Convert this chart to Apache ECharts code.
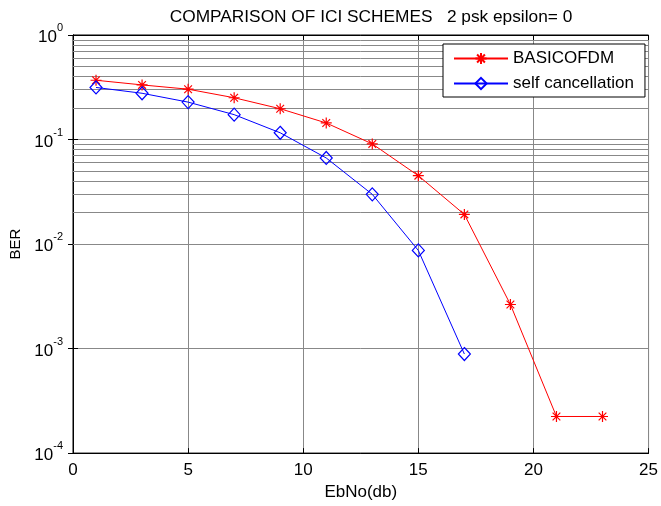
<!DOCTYPE html>
<html>
<head>
<meta charset="utf-8">
<script src="https://cdn.jsdelivr.net/npm/echarts@6/dist/echarts.min.js"></script>
<style>
html,body{margin:0;padding:0;background:#fff;}
#chart{width:661px;height:506px;}
</style>
</head>
<body>
<div id="chart"></div>
<script>
var titleText = 'COMPARISON OF ICI SCHEMES   2 psk epsilon= 0';
var xName = 'EbNo(db)';
var yName = 'BER';
var seriesNames = ['BASICOFDM', 'self cancellation'];

var xBasic = [1, 3, 5, 7, 9, 11, 13, 15, 17, 19, 21, 23];
var berBasic = [0.369, 0.333, 0.303, 0.251, 0.197, 0.144, 0.0908, 0.0451, 0.0192, 0.00264, 0.000224, 0.000224];

var xSelf = [1, 3, 5, 7, 9, 11, 13, 15, 17];
var berSelf = [0.315, 0.277, 0.228, 0.173, 0.116, 0.0666, 0.0299, 0.00869, 0.000887];

var xTicks = [0, 5, 10, 15, 20, 25];
var yDecades = [-4, -3, -2, -1, 0];

function pairs(xs, ys) { return xs.map(function (x, i) { return [x, ys[i]]; }); }

// minor log gridlines (2..9 x 10^e)
var minorLines = [];
for (var e = yDecades[0]; e < yDecades[yDecades.length - 1]; e++) {
  for (var k = 2; k <= 9; k++) minorLines.push({ yAxis: k * Math.pow(10, e) });
}

var gridColor = '#888888';
var font = 'Liberation Sans, Arial, sans-serif';

var chart = echarts.init(document.getElementById('chart'), null, { renderer: 'canvas' });
chart.setOption({
  backgroundColor: '#fff',
  animation: false,
  textStyle: { fontFamily: font },
  graphic: [{
    type: 'text', x: 371, y: 17, z: 10,
    style: { text: titleText, font: '17.3px ' + font, fill: '#000', align: 'center', verticalAlign: 'middle', textAlign: 'center', textVerticalAlign: 'middle' }
  }],
  grid: { left: 73, right: 8, top: 35, bottom: 46, show: true, borderColor: '#000', borderWidth: 1, backgroundColor: '#fff' },
  legend: {
    data: seriesNames,
    orient: 'vertical',
    left: 443, top: 44,
    backgroundColor: '#fff',
    borderColor: '#000', borderWidth: 1, borderRadius: 0,
    padding: [6, 11, 5, 10],
    itemGap: 8,
    itemWidth: 54, itemHeight: 14,
    textStyle: { fontSize: 17, color: '#000', fontFamily: font },
    z: 20
  },
  xAxis: [{
    type: 'value', min: 0, max: 25, interval: 5,
    name: xName, nameLocation: 'middle', nameGap: 23,
    nameTextStyle: { fontSize: 17, color: '#000' },
    axisLine: { show: true, lineStyle: { color: '#000' } },
    axisTick: { show: true, inside: true, length: 5, lineStyle: { color: '#000' } },
    axisLabel: { fontSize: 17, color: '#000', margin: 9 },
    splitLine: { show: true, lineStyle: { color: gridColor, width: 1 } }
  }, {
    type: 'value', min: 0, max: 25, interval: 5, position: 'top',
    axisLine: { show: true, lineStyle: { color: '#000' } },
    axisTick: { show: true, inside: true, length: 5, lineStyle: { color: '#000' } },
    axisLabel: { show: false }, splitLine: { show: false }
  }],
  yAxis: [{
    type: 'log', logBase: 10, min: 1e-4, max: 1, splitNumber: 4,
    name: yName, nameLocation: 'middle', nameGap: 40, nameRotate: 90,
    nameTextStyle: { fontSize: 15, color: '#000' },
    axisLine: { show: true, lineStyle: { color: '#000' } },
    axisTick: { show: true, inside: true, length: 5, lineStyle: { color: '#000' } },
    axisLabel: {
      color: '#000', margin: 10, padding: [5, 0, 0, 0],
      formatter: function (v) {
        var ex = Math.round(Math.log10(v));
        return '{b|10}{s|' + ex + '}';
      },
      rich: {
        b: { fontSize: 17, lineHeight: 30, color: '#000', fontFamily: font },
        s: { fontSize: 11, lineHeight: 10, verticalAlign: 'top', color: '#000', fontFamily: font }
      }
    },
    splitLine: { show: true, lineStyle: { color: gridColor, width: 1 } }
  }, {
    type: 'log', logBase: 10, min: 1e-4, max: 1, splitNumber: 4, position: 'right',
    axisLine: { show: true, lineStyle: { color: '#000' } },
    axisTick: { show: true, inside: true, length: 5, lineStyle: { color: '#000' } },
    axisLabel: { show: false }, splitLine: { show: false }
  }],
  series: [{
    name: '_minor', type: 'line', data: [], z: 1, silent: true,
    markLine: {
      silent: true, symbol: ['none', 'none'], z: 1,
      label: { show: false },
      emphasis: { disabled: true },
      lineStyle: { color: gridColor, type: 'solid', width: 1 },
      data: minorLines
    }
  }, {
    name: seriesNames[0], type: 'line', z: 4,
    data: pairs(xBasic, berBasic),
    showAllSymbol: true,
    symbol: 'path://M5,0L5,10M0,5L10,5M1.5,1.5L8.5,8.5M1.5,8.5L8.5,1.5',
    symbolSize: 11,
    itemStyle: { color: '#ff0000', borderColor: '#ff0000', borderWidth: 1.2 },
    lineStyle: { color: '#ff0000', width: 1 }
  }, {
    name: seriesNames[1], type: 'line', z: 4,
    data: pairs(xSelf, berSelf),
    showAllSymbol: true,
    symbol: 'diamond', symbolSize: [12, 13],
    itemStyle: { color: 'rgba(0,0,0,0)', borderColor: '#0000ff', borderWidth: 1.2 },
    lineStyle: { color: '#0000ff', width: 1 }
  }]
});
</script>
</body>
</html>
